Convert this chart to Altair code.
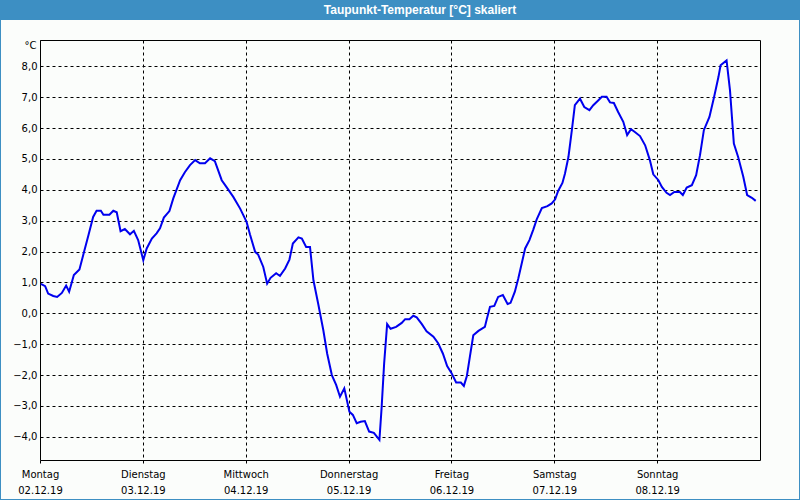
import altair as alt
import pandas as pd

TITLE = "Taupunkt-Temperatur [°C] skaliert"
UNIT = "°C"

days = ["Montag", "Dienstag", "Mittwoch", "Donnerstag", "Freitag", "Samstag", "Sonntag"]
dates = ["02.12.19", "03.12.19", "04.12.19", "05.12.19", "06.12.19", "07.12.19", "08.12.19"]
tick_hours = [0, 24, 48, 72, 96, 120, 144]
y_ticks = [-4, -3, -2, -1, 0, 1, 2, 3, 4, 5, 6, 7, 8]

# hours since Monday 00:00
hours = [
    0.2, 1.2, 1.9, 3.1, 4.0, 5.1, 6.1, 6.8, 7.9, 9.2, 10.3, 11.3, 12.4, 13.2, 14.2, 14.8,
    16.2, 17.1, 17.9, 18.8, 19.8, 21.0, 21.9, 22.9, 24.1, 24.9, 26.1, 27.2, 28.0, 28.9,
    30.2, 31.1, 32.7, 33.8, 35.0, 36.2, 37.3, 38.5, 39.7, 40.8, 42.4, 43.2, 45.1, 46.7,
    48.2, 49.0, 50.2, 50.9, 52.1, 53.0, 53.8, 55.1, 56.0, 57.2, 58.2, 59.0, 60.3, 61.1,
    62.1, 63.0, 63.8, 64.9, 66.1, 67.0, 68.1, 69.1, 70.0, 71.0, 72.2, 73.0, 73.9, 74.8,
    75.8, 76.8, 77.9, 79.2, 79.7, 80.3, 81.0, 81.8, 83.1, 84.4, 85.2, 86.2, 87.1, 87.9,
    89.1, 90.2, 91.8, 92.9, 94.0, 95.0, 96.0, 97.1, 98.2, 98.9, 99.6, 100.3, 101.1, 102.3,
    103.8, 104.2, 105.0, 106.0, 106.9, 108.0, 109.1, 109.8, 110.8, 111.6, 112.4, 113.2,
    114.2, 115.1, 115.9, 117.1, 118.4, 119.4, 120.2, 120.9, 121.9, 122.5, 123.3, 124.1,
    124.8, 126.0, 127.0, 128.2, 129.1, 130.3, 131.1, 132.2, 133.0, 133.9, 134.9, 136.1,
    137.0, 137.9, 138.8, 140.0, 141.2, 142.3, 143.1, 144.3, 145.1, 146.2, 147.0, 148.0,
    149.3, 150.0, 150.9, 152.1, 153.1, 154.0, 154.9, 156.2, 157.3, 158.3, 158.8, 160.2,
    161.0, 161.9, 162.9, 164.1, 165.0, 166.1, 167.0,
]
dewpoint = [
    0.95, 0.88, 0.64, 0.56, 0.53, 0.66, 0.90, 0.70, 1.24, 1.42, 2.00, 2.53, 3.12, 3.32, 3.32, 3.19,
    3.19, 3.32, 3.27, 2.66, 2.73, 2.56, 2.67, 2.37, 1.72, 2.10, 2.42, 2.59, 2.75, 3.10,
    3.31, 3.72, 4.31, 4.57, 4.80, 4.96, 4.86, 4.86, 5.02, 4.93, 4.31, 4.15, 3.77, 3.39,
    2.96, 2.55, 1.99, 1.90, 1.50, 0.96, 1.15, 1.30, 1.21, 1.45, 1.74, 2.26, 2.46, 2.42,
    2.15, 2.15, 1.07, 0.32, -0.54, -1.30, -2.00, -2.32, -2.70, -2.43, -3.19, -3.29, -3.56, -3.51,
    -3.49, -3.83, -3.87, -4.10, -3.08, -1.62, -0.35, -0.50, -0.44, -0.31, -0.19, -0.19, -0.08, -0.13,
    -0.35, -0.58, -0.76, -0.97, -1.30, -1.71, -1.93, -2.24, -2.24, -2.35, -2.03, -1.41, -0.71, -0.57,
    -0.44, -0.22, 0.21, 0.24, 0.53, 0.59, 0.30, 0.34, 0.70, 1.13, 1.61, 2.10,
    2.37, 2.71, 3.04, 3.41, 3.47, 3.56, 3.69, 3.96, 4.22, 4.53, 5.06, 5.93,
    6.74, 6.95, 6.68, 6.58, 6.74, 6.90, 7.01, 7.01, 6.83, 6.81, 6.52, 6.20,
    5.77, 5.96, 5.87, 5.74, 5.44, 4.96, 4.50, 4.31, 4.09, 3.90, 3.83, 3.93,
    3.93, 3.83, 4.07, 4.15, 4.47, 5.12, 5.93, 6.36, 7.01, 7.65, 8.03, 8.19,
    7.22, 5.50, 5.06, 4.42, 3.83, 3.74, 3.64,
]

df = pd.DataFrame({"h": hours, "v": dewpoint})
one = pd.DataFrame({"t": [TITLE]})

FONT = "DejaVu Sans"
BLUE_BAR = "#3d8fc3"

label_expr = "[" + ",".join(f"['{d}','{t}']" for d, t in zip(days, dates)) + "][round(datum.value/24)]"

line = alt.Chart(df).mark_line(color="#0000ee", strokeWidth=2).encode(
    x=alt.X(
        "h:Q",
        scale=alt.Scale(domain=[0, 168], nice=False, zero=False),
        axis=alt.Axis(
            values=tick_hours,
            labelExpr=label_expr,
            title=None,
            tickSize=3,
            labelPadding=6,
            labelFlush=False,
            labelOverlap=False,
            labelBound=False,
            labelAlign="center",
            labelBaseline="top",
            labelLineHeight=16,
        ),
    ),
    y=alt.Y(
        "v:Q",
        scale=alt.Scale(domain=[-4.75, 8.85], nice=False, zero=False),
        axis=alt.Axis(
            values=y_ticks,
            labelExpr="replace(format(datum.value, '.1f'), '.', ',')",
            title=UNIT,
            titleAngle=0,
            titleAlign="right",
            titleBaseline="middle",
            titleX=-4,
            titleY=5,
            titleFont=FONT,
            titleFontSize=10,
            titleFontWeight="normal",
            titleColor="black",
            tickSize=0,
            labelPadding=3,
            labelOverlap=False,
        ),
    ),
)

bar = alt.Chart(one).mark_rect(color=BLUE_BAR).encode(
    x=alt.value(-40), x2=alt.value(760), y=alt.value(-40), y2=alt.value(-20)
)
title_text = alt.Chart(one).mark_text(
    color="white", font="Liberation Sans", fontSize=12, fontWeight="bold",
    align="center", baseline="middle",
).encode(x=alt.value(380), y=alt.value(-30), text="t:N")

border_left = alt.Chart(one).mark_rule(color=BLUE_BAR, strokeWidth=1).encode(
    x=alt.value(-39.5), y=alt.value(-20), y2=alt.value(460)
)
border_right = alt.Chart(one).mark_rule(color=BLUE_BAR, strokeWidth=1).encode(
    x=alt.value(759.5), y=alt.value(-20), y2=alt.value(460)
)
border_bottom = alt.Chart(one).mark_rule(color=BLUE_BAR, strokeWidth=1).encode(
    x=alt.value(-40), x2=alt.value(760), y=alt.value(459.5)
)

chart = alt.layer(
    bar, title_text, border_left, border_right, border_bottom, line
).properties(
    width=720,
    height=420,
    padding={"left": 40, "top": 40, "right": 40, "bottom": 40},
    autosize=alt.AutoSizeParams(type="none"),
    background="#fbfdfb",
).configure_view(
    stroke="black", strokeWidth=1
).configure_axis(
    labelFont=FONT,
    labelFontSize=10,
    labelColor="black",
    grid=True,
    gridColor="black",
    gridDash=[3, 3],
    gridOpacity=1,
    gridWidth=1,
    domain=False,
    tickColor="black",
)

chart.save("out.html", embed_options={"renderer": "svg", "actions": False})
